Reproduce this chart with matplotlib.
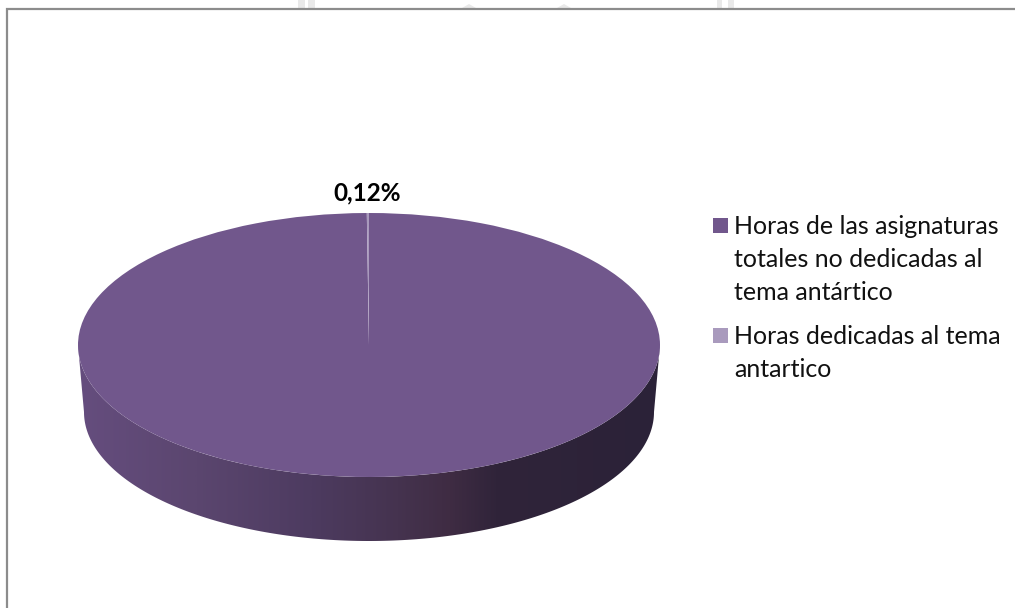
import numpy as np
import matplotlib
matplotlib.use('Agg')
import matplotlib.pyplot as plt
from matplotlib.colors import LinearSegmentedColormap
from matplotlib.patches import Polygon, Rectangle

# Values
categorias = ['Horas de las asignaturas\ntotales no dedicadas al\ntema antártico',
              'Horas dedicadas al tema\nantartico']
porcentajes = [99.88, 0.12]
etiquetas = ['99,88%', '0,12%']
colores = ['#71578c', '#a99abd']

W, H = 1015, 608
plt.rcParams['font.family'] = ['Lato', 'DejaVu Sans']

fig = plt.figure(figsize=(W / 100, H / 100), dpi=100, facecolor='white')

# Background axes in pixels: frame and the faint marks above it
bg = fig.add_axes([0, 0, 1, 1])
bg.set_xlim(0, W)
bg.set_ylim(H, 0)
bg.axis('off')
bg.plot([7, 7, W], [H, 9, 9], color='#8c8c8c', lw=1.6, solid_joinstyle='miter')
for x0, x1 in [(298, 305), (308, 315), (717, 722), (728, 734)]:
    bg.add_patch(Rectangle((x0, 0), x1 - x0, 8, color='#e9e9e9', lw=0))
for xc in [469, 564]:
    bg.add_patch(Polygon([(xc - 7, 8), (xc, 4), (xc + 7, 8)], color='#e9e9e9', lw=0))

# Pie axes: radius 1 maps to 291 px wide and 132 px high, so the circle is an ellipse
cx, cy, a, b = 369, 345, 291, 132
ax = fig.add_axes([(cx - a) / W, 1 - (cy + b) / H, 2 * a / W, 2 * b / H])

# Side of the disc
t = np.linspace(np.pi, 2 * np.pi, 200)
top = np.column_stack([np.cos(t), np.sin(t)])
low = np.column_stack([(285 / a) * np.cos(t[::-1]), (129 / b) * np.sin(t[::-1]) - 67 / b])
lado = Polygon(np.vstack([top, low]), transform=ax.transData, fc='none', ec='none')
ax.add_patch(lado)
lado.set_clip_on(False)
grad = LinearSegmentedColormap.from_list('lado', [
    (0.00, '#654d7e'), (0.20, '#5b466f'), (0.40, '#4d3b60'), (0.55, '#45334f'),
    (0.64, '#3f2c43'), (0.72, '#30243a'), (1.00, '#2b2238')])
img = ax.imshow(np.linspace(0, 1, 400)[None, :], cmap=grad, aspect='auto',
                extent=[-1, 1, -1.6, 0.1], zorder=1)

wedges, _ = ax.pie(porcentajes, colors=colores, startangle=90, counterclock=False,
                   radius=1, wedgeprops={'linewidth': 0, 'zorder': 2})
ax.set_aspect('auto')
ax.set_xlim(-1, 1)
ax.set_ylim(-1, 1)
for w in wedges:
    w.set_clip_on(False)
    w.set_zorder(2)
img.set_clip_box(fig.bbox)
img.set_clip_path(lado)
ax.patch.set_visible(False)
ax.set_frame_on(False)

# Labels and legend, placed in pixels
bg.set_zorder(0)
ax.set_zorder(1)
top_ax = fig.add_axes([0, 0, 1, 1], facecolor='none')
top_ax.set_xlim(0, W)
top_ax.set_ylim(H, 0)
top_ax.axis('off')
top_ax.text(371, 452, etiquetas[0], ha='center', va='center', fontsize=17.5, fontweight='bold', color='black')
top_ax.text(367, 193, etiquetas[1], ha='center', va='center', fontsize=17.5, fontweight='bold', color='black')

for nombre, color, y_cuadro in zip(categorias, colores, [218, 328]):
    top_ax.add_patch(Rectangle((713, y_cuadro), 15, 15, fc=color, ec='none'))
    top_ax.text(734, y_cuadro - 3, nombre, ha='left', va='top', fontsize=18,
                linespacing=1.53, color='#111111')

fig.savefig('out.png', dpi=100)
